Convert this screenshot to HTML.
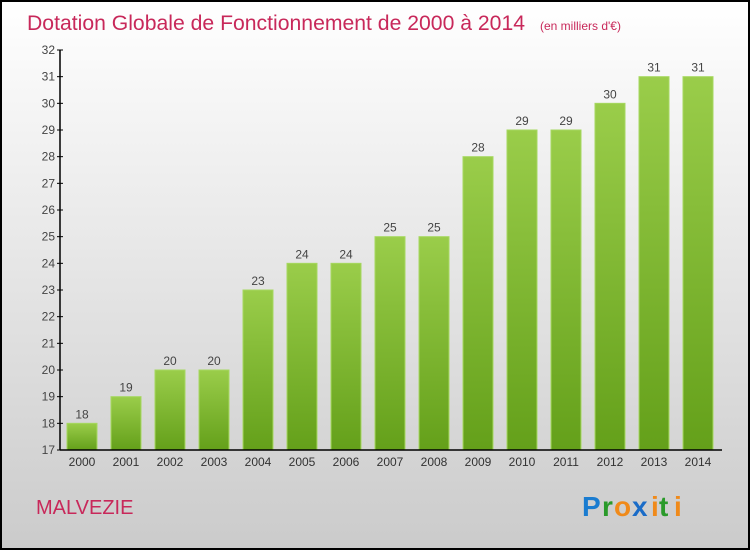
<!DOCTYPE html>
<html><head><meta charset="utf-8"><style>
body{margin:0;}
#c{position:relative;width:750px;height:550px;}
svg text{font-family:"Liberation Sans",sans-serif;}
</style></head><body>
<div id="c">
<svg id="s" width="750" height="550" xmlns="http://www.w3.org/2000/svg">
<defs>
<linearGradient id="bg" x1="0" y1="0" x2="0" y2="1"><stop offset="0" stop-color="#ffffff"/><stop offset="1" stop-color="#cbcbcb"/></linearGradient>
<linearGradient id="bar" x1="0" y1="0" x2="0" y2="1"><stop offset="0" stop-color="#9acd4a"/><stop offset="1" stop-color="#64a01a"/></linearGradient>
</defs>
<rect x="1" y="1" width="748" height="548" fill="url(#bg)" stroke="#000" stroke-width="2"/>
<text x="27" y="30" font-size="21" fill="#c8285a"><tspan textLength="498" lengthAdjust="spacingAndGlyphs">Dotation Globale de Fonctionnement de 2000 à 2014</tspan><tspan font-size="12" x="540">(en milliers d'€)</tspan></text>
<text x="36" y="514" font-size="20" fill="#c8285a">MALVEZIE</text>
<g id="logo" font-size="28" font-weight="bold" font-family="Liberation Sans">
<text x="582" y="516" fill="#1a7cd0">P</text><text x="602" y="516" fill="#2a9a2a">r</text><text x="614" y="516" fill="#f08a1a">o</text><text x="632" y="516" fill="#1a6cc8">x</text><text x="651" y="516" fill="#f08a1a">i</text><text x="659" y="516" fill="#2a9a2a">t</text><text x="674" y="516" fill="#f08a1a">i</text>
</g>
<g id="plot"></g>
</svg>
</div>
<script>
const years=["2000","2001","2002","2003","2004","2005","2006","2007","2008","2009","2010","2011","2012","2013","2014"];
const values=[18,19,20,20,23,24,24,25,25,28,29,29,30,31,31];
const yTicks=[17,18,19,20,21,22,23,24,25,26,27,28,29,30,31,32];
const NS="http://www.w3.org/2000/svg";
const g=document.getElementById('plot');
const yMin=17,yMax=32,yTop=50,yBot=450,x0=60,x1=722;
function y(v){return yBot-(v-yMin)/(yMax-yMin)*(yBot-yTop);}
function xc(i){return 82+i*44;}
function mk(t,a){const e=document.createElementNS(NS,t);for(const k in a)e.setAttribute(k,a[k]);g.appendChild(e);return e;}
values.forEach((v,i)=>{
 const r=mk('rect',{x:xc(i)-15,y:y(v),width:30,height:yBot-y(v),fill:'url(#bar)',stroke:'#a6d860','stroke-width':1});
 
 
 const t=mk('text',{x:xc(i),y:y(v)-5,'font-size':12,fill:'#444','text-anchor':'middle'});
 t.textContent=v;
 
 
 const l=mk('text',{x:xc(i),y:466,'font-size':12,fill:'#333','text-anchor':'middle'});
 l.textContent=years[i];
 
 
});
yTicks.forEach(v=>{
 const t=mk('text',{x:55,y:y(v)+4,'font-size':12,fill:'#444','text-anchor':'end'});
 t.textContent=v;
 
 
 const k=mk('line',{x1:57,x2:63,y1:y(v),y2:y(v),stroke:'#000'});
 
 
});
const ya=mk('line',{x1:x0,x2:x0,y1:yTop,y2:yBot,stroke:'#000','stroke-width':1.5});


const xa=mk('line',{x1:x0,x2:x1,y1:yBot,y2:yBot,stroke:'#000','stroke-width':1.5});


</script>
</body></html>
